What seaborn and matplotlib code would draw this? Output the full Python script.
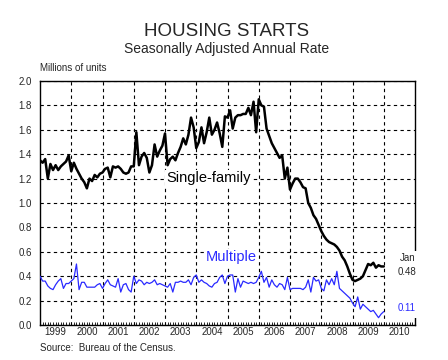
import numpy as np
import pandas as pd
import seaborn as sns
import matplotlib
matplotlib.use('Agg')
from matplotlib import pyplot as plt
from matplotlib import transforms
from matplotlib.patches import Rectangle

# monthly data, Jan 1999 - Jan 2010, millions of units (SAAR)
single_family = [
    1.35, 1.33, 1.36, 1.20, 1.32, 1.27, 1.31, 1.27, 1.30, 1.32, 1.34, 1.39,  # 1999
    1.26, 1.33, 1.28, 1.24, 1.20, 1.17, 1.12, 1.20, 1.18, 1.23, 1.21, 1.24,  # 2000
    1.25, 1.28, 1.29, 1.21, 1.30, 1.29, 1.30, 1.28, 1.25, 1.24, 1.25, 1.30,  # 2001
    1.30, 1.58, 1.31, 1.38, 1.41, 1.37, 1.25, 1.31, 1.48, 1.38, 1.43, 1.47,  # 2002
    1.57, 1.31, 1.36, 1.38, 1.35, 1.41, 1.46, 1.53, 1.48, 1.56, 1.70, 1.62,  # 2003
    1.45, 1.50, 1.62, 1.49, 1.58, 1.70, 1.56, 1.60, 1.66, 1.57, 1.46, 1.71,  # 2004
    1.70, 1.76, 1.61, 1.70, 1.72, 1.72, 1.73, 1.73, 1.78, 1.72, 1.83, 1.58,  # 2005
    1.85, 1.80, 1.79, 1.61, 1.55, 1.49, 1.45, 1.41, 1.37, 1.39, 1.20, 1.29,  # 2006
    1.11, 1.16, 1.20, 1.20, 1.17, 1.13, 1.12, 1.00, 0.96, 0.90, 0.87, 0.82,  # 2007
    0.77, 0.73, 0.70, 0.68, 0.67, 0.66, 0.64, 0.61, 0.56, 0.53, 0.48, 0.42,  # 2008
    0.37, 0.36, 0.37, 0.38, 0.40, 0.45, 0.50, 0.49, 0.51, 0.47, 0.49, 0.48,  # 2009
    0.48,                                                                    # 2010
]
multiple = [
    0.40, 0.36, 0.36, 0.32, 0.30, 0.29, 0.33, 0.36, 0.38, 0.30, 0.34, 0.34,
    0.36, 0.38, 0.50, 0.29, 0.35, 0.35, 0.31, 0.31, 0.31, 0.31, 0.33, 0.34,
    0.30, 0.34, 0.37, 0.33, 0.32, 0.31, 0.38, 0.27, 0.33, 0.34, 0.29, 0.27,
    0.40, 0.34, 0.37, 0.36, 0.33, 0.35, 0.34, 0.35, 0.37, 0.33, 0.34, 0.33,
    0.32, 0.31, 0.34, 0.27, 0.35, 0.35, 0.36, 0.35, 0.35, 0.37, 0.33, 0.39,
    0.41, 0.35, 0.37, 0.35, 0.34, 0.32, 0.31, 0.34, 0.35, 0.39, 0.41, 0.34,
    0.40, 0.41, 0.41, 0.27, 0.38, 0.31, 0.36, 0.35, 0.34, 0.35, 0.34, 0.35,
    0.39, 0.44, 0.35, 0.39, 0.31, 0.37, 0.33, 0.31, 0.34, 0.33, 0.29, 0.39,
    0.29, 0.30, 0.30, 0.30, 0.30, 0.29, 0.31, 0.37, 0.27, 0.39, 0.36, 0.37,
    0.30, 0.28, 0.37, 0.33, 0.38, 0.33, 0.44, 0.30, 0.28, 0.26, 0.24, 0.22,
    0.18, 0.15, 0.23, 0.13, 0.17, 0.15, 0.13, 0.11, 0.12, 0.09, 0.06, 0.09,
    0.11,
]
year_labels = [str(y) for y in range(1999, 2011)]
y_ticks = [0.0, 0.2, 0.4, 0.6, 0.8, 1.0, 1.2, 1.4, 1.6, 1.8, 2.0]

months = pd.date_range('1999-01-01', periods=len(single_family), freq='MS')
df = pd.DataFrame({
    't': months.year + (months.month - 1) / 12.0,
    'single': single_family,
    'multiple': multiple,
})

sns.set_style('white')
plt.rcParams['font.family'] = ['Liberation Sans', 'DejaVu Sans']

fig = plt.figure(figsize=(4.48, 3.6), dpi=100)
ax = fig.add_axes([40 / 448, 1 - 325 / 360, 375 / 448, 244 / 360])

blue = '#2a2aff'
sns.lineplot(data=df, x='t', y='single', ax=ax, color='black', lw=1.8, zorder=3)
sns.lineplot(data=df, x='t', y='multiple', ax=ax, color=blue, lw=0.9, zorder=3)

ax.set_xlim(1999, 2011)
ax.set_ylim(0, 2.0)
ax.set_xlabel('')
ax.set_ylabel('')

# year grid, monthly minor ticks
ax.set_xticks(range(2000, 2011))
ax.set_xticklabels([])
ax.set_xticks(np.arange(1999, 2011, 1 / 12), minor=True)
ax.tick_params(axis='x', which='major', length=0)
ax.tick_params(axis='x', which='minor', bottom=True, direction='in', length=2.5, width=0.6, color='black')
ax.set_yticks(y_ticks)
ax.set_yticklabels([f'{v:.1f}' for v in y_ticks], fontsize=7)
ax.tick_params(axis='y', length=0, pad=6)
ax.grid(True, which='major', color='black', linestyle=(0, (3, 3)), lw=0.8)

for s in ax.spines.values():
    s.set_color('black')
    s.set_linewidth(1.0)

trans = transforms.blended_transform_factory(ax.transData, ax.transAxes)
for i, lab in enumerate(year_labels):
    ax.text(1999.5 + i, -0.027, lab, transform=trans, ha='center', va='center', fontsize=7)

# white box over the right edge for the end labels
trans_y = transforms.blended_transform_factory(ax.transAxes, ax.transData)
ax.add_patch(Rectangle((0.926, 0.06), 0.1, 0.55, transform=trans_y, facecolor='white',
                       edgecolor='none', zorder=2.6, clip_on=False))
ax.text(1.0, 0.55, 'Jan', transform=trans_y, ha='right', va='center', fontsize=7, zorder=4)
ax.text(1.003, 0.435, f'{single_family[-1]:.2f}', transform=trans_y, ha='right', va='center', fontsize=7, zorder=4)
ax.text(1.003, 0.14, f'{multiple[-1]:.2f}', transform=trans_y, ha='right', va='center', fontsize=7,
        color=blue, zorder=4)

box = dict(facecolor='white', edgecolor='none', pad=1.0)
ax.text(2003.05, 1.205, 'Single-family', fontsize=10.5, color='black', va='center', zorder=2.8, bbox=box)
ax.text(2004.3, 0.557, 'Multiple', fontsize=10.5, color=blue, va='center', zorder=2.8, bbox=box)

fig.text(227 / 448, 1 - 31 / 360, 'HOUSING STARTS', ha='center', va='center', fontsize=13.5)
fig.text(227 / 448, 1 - 49 / 360, 'Seasonally Adjusted Annual Rate', ha='center', va='center', fontsize=10)
fig.text(40 / 448, 1 - 68 / 360, 'Millions of units', ha='left', va='center', fontsize=7)
fig.text(40 / 448, 1 - 348 / 360, 'Source:  Bureau of the Census.', ha='left', va='center', fontsize=7)

fig.savefig('out.png', dpi=100)
